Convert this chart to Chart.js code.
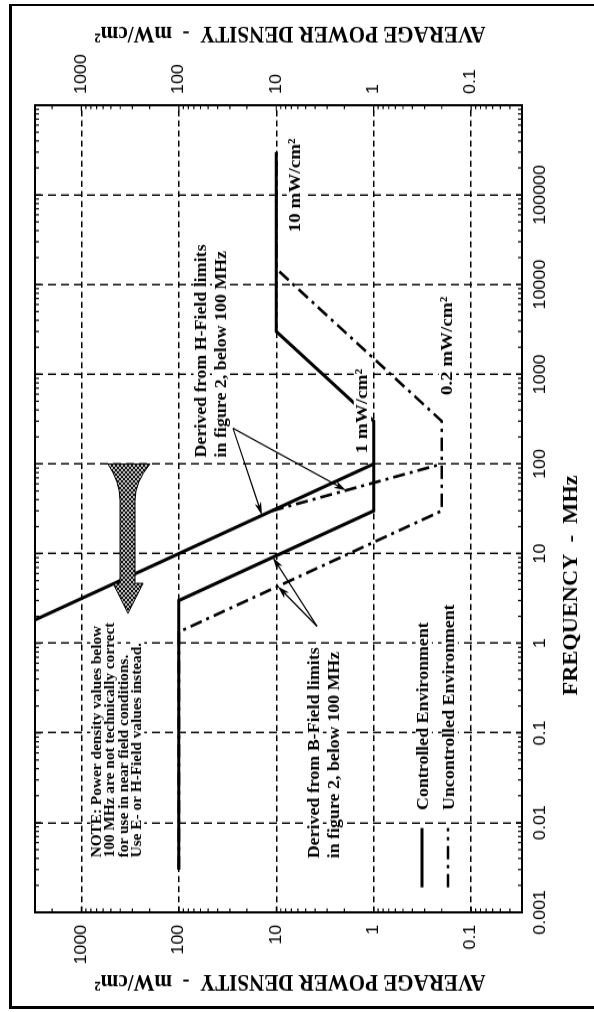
<!DOCTYPE html>
<html><head><meta charset="utf-8">
<script src="https://cdn.jsdelivr.net/npm/chart.js@4/dist/chart.umd.min.js"></script>
<style>
html,body{margin:0;padding:0;background:#fff;overflow:hidden;width:594px;height:1012px;}
#wrap{position:absolute;left:0;top:0;width:904px;height:594px;transform-origin:0 0;transform:translateY(1012px) rotate(-90deg) scaleX(1.11947);}
#frame{position:absolute;left:9px;top:4px;width:640px;height:1005px;border:3px solid #000;border-top-width:2px;border-right:none;box-sizing:border-box;pointer-events:none;}
</style></head><body>
<div id="wrap"><canvas id="c" width="904" height="594" style="width:904px;height:594px"></canvas></div>
<div id="frame"></div>
<script>
// ---- axis ticks ----
const freqTickValues = [0.001, 0.01, 0.1, 1, 10, 100, 1000, 10000, 100000];
const freqTickLabels = ['0.001', '0.01', '0.1', '1', '10', '100', '1000', '10000', '100000'];
const densityTickValues = [0.1, 1, 10, 100, 1000];
const densityTickLabels = ['0.1', '1', '10', '100', '1000'];

// ---- series (frequency MHz, power density mW/cm²) ----
const controlledEFreq    = [0.003, 3, 30, 300, 3000, 300000];
const controlledEDensity = [100, 100, 1, 1, 10, 10];
const controlledHFreq    = [1, 100];
const controlledHDensity = [10000, 1];
const uncontrolledEFreq    = [0.003, 1.34, 30, 300, 15000, 300000];
const uncontrolledEDensity = [100, 100, 0.2, 0.2, 10, 10];
const uncontrolledHFreq    = [30, 100];
const uncontrolledHDensity = [11.1, 0.2];

// ---- annotations (data space anchors) ----
const noteLines = ['NOTE: Power density values below', '100 MHz are not technically correct', 'for use in near field conditions.', 'Use E- or H-Field values instead.'];
const noteAnchor = {f: 0.0041, p: 630};
const hLabelLines = ['Derived from H-Field limits', 'in figure 2, below 100 MHz'];
const hLabelAnchor = {f: 118, p: 52.6};
const hArrowFrom = {f: 250, p: 27.8};
const hArrowTo = [{f: 26.7, p: 14.0}, {f: 50.8, p: 1.92}];
const bLabelLines = ['Derived from B-Field limits', 'in figure 2, below 100 MHz'];
const bLabelAnchor = {f: 0.004, p: 3.64};
const bArrowFrom = {f: 1.55, p: 3.82};
const bArrowTo = [{f: 9.1, p: 10.87}, {f: 4.32, p: 9.65}];
const levelLabels = [
  {text: '1 mW/cm²', f: 131.5, p: 1.17},
  {text: '10 mW/cm²', f: 38300, p: 5.7},
  {text: '0.2 mW/cm²', f: 583, p: 0.157}
];
const legendAnchor = {f: 0.0019, p: 0.319};
// hatched "below 100 MHz" arrow outline (data space)
const hatchArrow = {fTop: 100, pTop: [535, 198], fNeck: 39.3, pNeck: [402, 282], fHead: 4.67, pHead: [474, 233], fTip: 2.16, pTip: 333};

const SX = 1.11947; // horizontal stretch of the scanned figure
const serifB = (s) => `bold ${s}px "Liberation Serif", "Times New Roman", serif`;
const pts = (fs, ps) => fs.map((f, i) => ({x: f, y: ps[i]}));
const DASHDOT = [12, 5, 3, 5];

function textBg(ctx, text, x, y, size, font) {
  ctx.font = font;
  const w = ctx.measureText(text).width;
  ctx.fillStyle = '#fff';
  ctx.fillRect(x - 2, y - size * 0.78, w + 4, size * 1.02);
  ctx.fillStyle = '#000';
  ctx.fillText(text, x, y);
}
function arrow(ctx, a, b) {
  const dx = b.x - a.x, dy = b.y - a.y, L = Math.hypot(dx, dy), ux = dx / L, uy = dy / L;
  const hl = 12, hw = 3.4;
  ctx.setLineDash([]);
  ctx.lineWidth = 1.2;
  ctx.beginPath(); ctx.moveTo(a.x, a.y); ctx.lineTo(b.x - ux * hl * 0.7, b.y - uy * hl * 0.7); ctx.stroke();
  ctx.beginPath();
  ctx.moveTo(b.x, b.y);
  ctx.lineTo(b.x - ux * hl - uy * hw, b.y - uy * hl + ux * hw);
  ctx.lineTo(b.x - ux * hl * 0.72, b.y - uy * hl * 0.72);
  ctx.lineTo(b.x - ux * hl + uy * hw, b.y - uy * hl - ux * hw);
  ctx.closePath(); ctx.fill();
}

const decor = {
  id: 'decor',
  afterDatasetsDraw(chart) {
    const ctx = chart.ctx, xs = chart.scales.x, ys = chart.scales.y, a = chart.chartArea;
    const P = (f, p) => ({x: xs.getPixelForValue(f), y: ys.getPixelForValue(p)});
    ctx.save();
    ctx.strokeStyle = '#000'; ctx.fillStyle = '#000';
    ctx.textBaseline = 'alphabetic'; ctx.textAlign = 'left';

    // minor ticks, inward on all four edges
    ctx.lineWidth = 1.2; ctx.setLineDash([]);
    const minors = (lo, hi) => { const out = []; for (let e = Math.floor(Math.log10(lo)) - 1; e <= Math.ceil(Math.log10(hi)); e++) for (let m = 1; m <= 9; m++) { const v = m * Math.pow(10, e); if (v >= lo * 0.999 && v <= hi * 1.001) out.push([v, m]); } return out; };
    ctx.beginPath();
    minors(xs.min, xs.max).forEach(([v, m]) => { const x = xs.getPixelForValue(v); const L = m === 1 ? 6 : 4; ctx.moveTo(x, a.bottom); ctx.lineTo(x, a.bottom - L); ctx.moveTo(x, a.top); ctx.lineTo(x, a.top + L); });
    minors(ys.min, ys.max).forEach(([v, m]) => { const y = ys.getPixelForValue(v); const L = m === 1 ? 5 : 3.5; ctx.moveTo(a.left, y); ctx.lineTo(a.left + L, y); ctx.moveTo(a.right, y); ctx.lineTo(a.right - L, y); });
    ctx.stroke();

    // hatched arrow
    const pc = document.createElement('canvas'); pc.width = 4; pc.height = 4;
    const g = pc.getContext('2d'); g.fillStyle = '#bdbdbd'; g.fillRect(0, 0, 4, 4); g.fillStyle = '#111';
    for (let i = 0; i < 4; i++) { g.fillRect(i, i, 1, 1); g.fillRect(3 - i, i, 1, 1); }
    const H = hatchArrow;
    const t1 = P(H.fTop, H.pTop[0]), t2 = P(H.fTop, H.pTop[1]);
    const n1 = P(H.fNeck, H.pNeck[0]), n2 = P(H.fNeck, H.pNeck[1]);
    const h1 = P(H.fHead, H.pHead[0]), h2 = P(H.fHead, H.pHead[1]);
    const s1 = P(H.fHead, H.pNeck[0]), s2 = P(H.fHead, H.pNeck[1]);
    const tip = P(H.fTip, H.pTip);
    ctx.beginPath();
    ctx.moveTo(t1.x, t1.y);
    ctx.quadraticCurveTo((t1.x + n1.x) / 2, n1.y, n1.x, n1.y);
    ctx.lineTo(s1.x, s1.y); ctx.lineTo(h1.x, h1.y); ctx.lineTo(tip.x, tip.y); ctx.lineTo(h2.x, h2.y); ctx.lineTo(s2.x, s2.y);
    ctx.lineTo(n2.x, n2.y);
    ctx.quadraticCurveTo((t2.x + n2.x) / 2, n2.y, t2.x, t2.y);
    ctx.closePath();
    ctx.fillStyle = ctx.createPattern(pc, 'repeat'); ctx.fill();
    ctx.lineWidth = 1; ctx.strokeStyle = '#000'; ctx.stroke();
    ctx.fillStyle = '#000';

    // NOTE
    const na = P(noteAnchor.f, noteAnchor.p);
    noteLines.forEach((t, i) => textBg(ctx, t, na.x, na.y + i * 13.3, 13.7, serifB(13.7)));
    // H-field label + arrows
    const ha = P(hLabelAnchor.f, hLabelAnchor.p);
    hLabelLines.forEach((t, i) => textBg(ctx, t, ha.x, ha.y + i * 20, 16, serifB(16)));
    hArrowTo.forEach(e => arrow(ctx, P(hArrowFrom.f, hArrowFrom.p), P(e.f, e.p)));
    // B-field label + arrows
    const ba = P(bLabelAnchor.f, bLabelAnchor.p);
    bLabelLines.forEach((t, i) => textBg(ctx, t, ba.x, ba.y + i * 20, 16, serifB(16)));
    bArrowTo.forEach(e => arrow(ctx, P(bArrowFrom.f, bArrowFrom.p), P(e.f, e.p)));
    // level labels
    levelLabels.forEach(l => { const q = P(l.f, l.p); textBg(ctx, l.text, q.x, q.y, 17, serifB(17)); });

    // legend
    const la = P(legendAnchor.f, legendAnchor.p);
    const items = [chart.data.datasets[0], chart.data.datasets[2]];
    items.forEach((ds, i) => {
      const y = la.y + i * 26;
      ctx.strokeStyle = '#000'; ctx.lineWidth = ds.borderWidth; ctx.setLineDash(ds.borderDash || []);
      ctx.beginPath(); ctx.moveTo(la.x, y); ctx.lineTo(la.x + 53, y); ctx.stroke();
      ctx.setLineDash([]);
      textBg(ctx, ds.label, la.x + 69, y + 6, 16, serifB(16));
    });

    // plot border
    ctx.setLineDash([]); ctx.lineWidth = 2; ctx.strokeStyle = '#000';
    ctx.strokeRect(a.left, a.top, a.right - a.left, a.bottom - a.top);
    ctx.restore();
  },
  afterDraw(chart) {
    const ctx = chart.ctx, a = chart.chartArea;
    ctx.save();
    ctx.fillStyle = '#000';
    ctx.textAlign = 'center'; ctx.textBaseline = 'alphabetic';
    ctx.font = serifB(20);
    ctx.fillText('FREQUENCY  -  MHz', a.left + (427 - 100) / SX, 577);
    ctx.font = serifB(21);
    ctx.textBaseline = 'middle';
    [[28, 290], [875, 290]].forEach(([x, y]) => {
      ctx.save(); ctx.translate(x, y); ctx.rotate(-Math.PI / 2);
      ctx.fillText('AVERAGE POWER DENSITY  -  mW/cm²', 0, 0);
      ctx.restore();
    });
    ctx.restore();
  }
};

const tickFont = {family: '"Liberation Sans", Arial, sans-serif', size: 16};
new Chart(document.getElementById('c'), {
  type: 'line',
  data: {
    datasets: [
      {label: 'Controlled Environment', data: pts(controlledEFreq, controlledEDensity), borderColor: '#000', borderWidth: 3, pointRadius: 0, tension: 0},
      {label: 'Controlled Environment (H-field)', data: pts(controlledHFreq, controlledHDensity), borderColor: '#000', borderWidth: 3, pointRadius: 0, tension: 0},
      {label: 'Uncontrolled Environment', data: pts(uncontrolledEFreq, uncontrolledEDensity), borderColor: '#000', borderWidth: 2.6, borderDash: DASHDOT, pointRadius: 0, tension: 0},
      {label: 'Uncontrolled Environment (H-field)', data: pts(uncontrolledHFreq, uncontrolledHDensity), borderColor: '#000', borderWidth: 2.6, borderDash: DASHDOT, pointRadius: 0, tension: 0}
    ]
  },
  options: {
    responsive: false, maintainAspectRatio: false, animation: false, events: [],
    layout: {padding: {top: 35, left: 0, right: 0, bottom: 0}},
    plugins: {legend: {display: false}, tooltip: {enabled: false}},
    scales: {
      x: {
        type: 'logarithmic', position: 'bottom', min: 0.001, max: 1000000,
        afterBuildTicks: s => { s.ticks = freqTickValues.map(v => ({value: v})); },
        afterFit: s => { s.height = 72; },
        ticks: {autoSkip: false, maxRotation: 0, minRotation: 0, padding: 9, color: '#000', font: tickFont, callback: (v, i) => freqTickLabels[i]},
        grid: {color: '#000', lineWidth: 1.4, drawTicks: false},
        border: {display: false, dash: [8, 5]}
      },
      y: {
        type: 'logarithmic', position: 'left', min: 0.03, max: 3000,
        afterBuildTicks: s => { s.ticks = densityTickValues.map(v => ({value: v})); },
        afterFit: s => { s.width = 89; },
        ticks: {autoSkip: false, padding: 11, color: '#000', font: tickFont, callback: (v, i) => densityTickLabels[i]},
        grid: {color: '#000', lineWidth: 1.4, drawTicks: false},
        border: {display: false, dash: [5.4, 3.6]}
      },
      y2: {
        type: 'logarithmic', position: 'right', min: 0.03, max: 3000,
        afterBuildTicks: s => { s.ticks = densityTickValues.map(v => ({value: v})); },
        afterFit: s => { s.width = 94; },
        ticks: {autoSkip: false, padding: 10, color: '#000', font: tickFont, callback: (v, i) => densityTickLabels[i]},
        grid: {display: false, drawTicks: false},
        border: {display: false}
      }
    }
  },
  plugins: [decor]
});
</script></body></html>
